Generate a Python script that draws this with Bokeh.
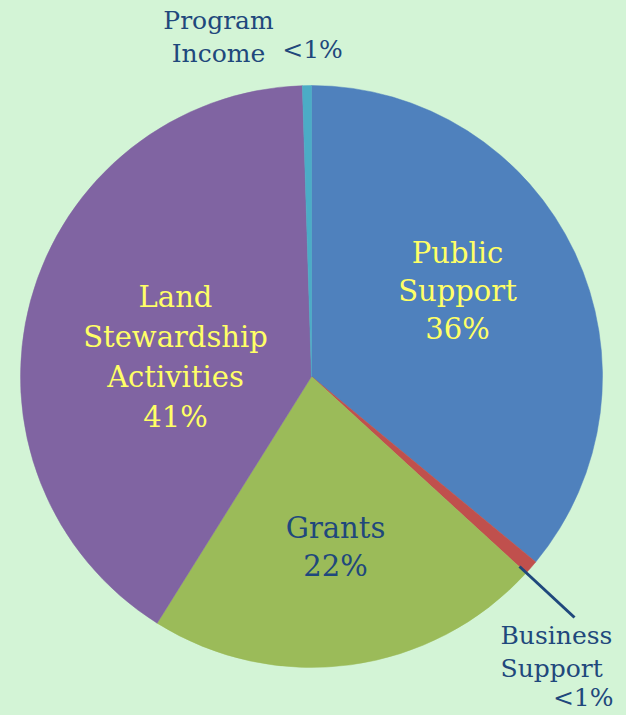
from bokeh.plotting import figure
from bokeh.models import Range1d
from bokeh.embed import file_html
from bokeh.resources import INLINE
from bokeh.core.properties import value
import math

# ---- data ----
categories = ["Public Support", "Business Support", "Grants",
              "Land Stewardship Activities", "Program Income"]
shares = [36.0, 0.8, 22.1, 40.6, 0.5]
colors = ["#4F81BD", "#C0504D", "#9BBB59", "#8064A2", "#4BACC6"]

BG = "#D3F4D6"
NAVY = "#1F487C"
YELLOW = "#FFFF66"
FONT = value("DejaVu Serif")

W, H = 626, 715
p = figure(width=W, height=H, output_backend="svg", toolbar_location=None,
           x_range=Range1d(0, W), y_range=Range1d(0, H),
           min_border=0, outline_line_color=None,
           background_fill_color=BG, border_fill_color=BG)
p.axis.visible = False
p.grid.visible = False

cx, cy, r = 311, 715 - 376, 291
total = sum(shares)
starts, ends = [], []
cum = 0.0
for s in shares:
    starts.append(math.pi / 2 - cum / total * 2 * math.pi)
    cum += s
    ends.append(math.pi / 2 - cum / total * 2 * math.pi)

p.wedge(x=[cx] * len(shares), y=[cy] * len(shares), radius=r,
        start_angle=starts, end_angle=ends, direction="clock",
        fill_color=colors, line_color=colors, line_width=0.5)

def pct(v):
    return "<1%" if v < 1 else f"{round(v)}%"

def lines(x, y0, texts, size, color, spacing, align="center"):
    ys = [715 - (y0 - 10 + i * spacing) for i in range(len(texts))]
    p.text(x=[x] * len(texts), y=ys, text=texts, text_font=FONT,
           text_font_size=f"{size}px", text_color=color,
           text_align=align, text_baseline="alphabetic")

# Public Support
lines(457, 262, ["Public", "Support", pct(shares[0])], 29, YELLOW, 38)
# Grants
lines(335, 537, ["Grants", pct(shares[2])], 29, NAVY, 38)
# Land Stewardship Activities
lines(175, 306, ["Land", "Stewardship", "Activities", pct(shares[3])], 29, YELLOW, 40)
# Program Income
lines(218, 30, ["Program", "Income"], 25, NAVY, 33)
lines(312, 59, [pct(shares[4])], 25, NAVY, 33)
# Business Support
lines(500, 645, ["Business", "Support"], 25, NAVY, 33, align="left")
lines(613, 707, [pct(shares[1])], 25, NAVY, 33, align="right")

# leader line for Business Support
p.line(x=[519, 574], y=[715 - 566, 715 - 617], line_color=NAVY, line_width=3)

html = file_html(p, INLINE)
html = html.replace("<head>", "<head><style>body{background:%s;}</style>" % BG, 1)
open("out.html", "w").write(html)
